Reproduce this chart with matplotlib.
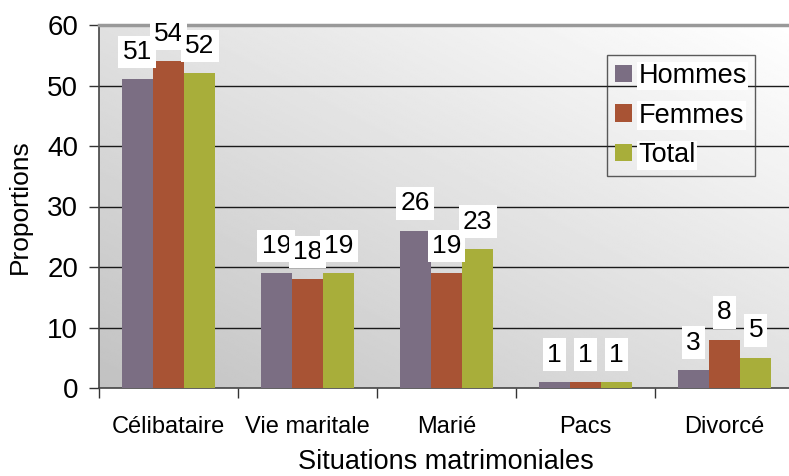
import numpy as np
import matplotlib
matplotlib.use("Agg")
import matplotlib.pyplot as plt
from matplotlib.patches import Patch

plt.rcParams['font.family'] = ['Liberation Sans', 'DejaVu Sans']

categories = ["Célibataire", "Vie maritale", "Marié", "Pacs", "Divorcé"]
hommes = [51, 19, 26, 1, 3]
femmes = [54, 18, 19, 1, 8]
total = [52, 19, 23, 1, 5]
series_names = ["Hommes", "Femmes", "Total"]
series_colors = ["#7B6E83", "#A85334", "#A8AE3A"]
yticks = [0, 10, 20, 30, 40, 50, 60]

fig = plt.figure(figsize=(7.89, 4.76), dpi=100)
ax = fig.add_axes([99/789, 88/476, 695/789, 363/476])

# gradient background
n = 256
xx, yy = np.meshgrid(np.linspace(0, 1, n), np.linspace(0, 1, n))
g = (xx + yy) / 2.0
lo, hi = 0.76, 1.0
img = lo + (hi - lo) * g
ax.imshow(img, cmap='gray', vmin=0, vmax=1, extent=[0, 1, 0, 1], origin='lower',
          transform=ax.transAxes, aspect='auto', zorder=0, interpolation='bilinear')

x = np.arange(len(categories))
w = 0.225
data = [hommes, femmes, total]
for i, (vals, name, col) in enumerate(zip(data, series_names, series_colors)):
    pos = x + (i - 1) * w
    ax.bar(pos, vals, width=w, color=col, zorder=3, label=name)
    for px, v in zip(pos, vals):
        ax.annotate(str(v), xy=(px, v), xytext=(0, 11), textcoords='offset points',
                    ha='center', va='bottom', fontsize=19, zorder=5,
                    bbox=dict(boxstyle='square,pad=0.16', fc='white', ec='none'))

ax.set_xlim(-0.5, len(categories) - 0.5)
ax.set_ylim(0, 60)
ax.set_yticks(yticks)
ax.set_xticks(np.arange(len(categories) + 1) - 0.5)
ax.set_xticklabels([])
ax.set_xticks(x, minor=True)
ax.set_xticklabels(categories, minor=True, fontsize=17)
ax.tick_params(axis='x', which='minor', length=0, pad=20)
ax.tick_params(axis='x', which='major', length=7, width=1, color='#333333', direction='out')
ax.tick_params(axis='y', length=7, width=1, color='#333333', labelsize=20, pad=8)

for yv in yticks[1:-1]:
    ax.axhline(yv, color='#1a1a1a', lw=1, zorder=1)

ax.spines['top'].set_color('#999999')
ax.spines['top'].set_linewidth(2.5)
ax.spines['right'].set_visible(False)
ax.spines['left'].set_color('#444444')
ax.spines['left'].set_linewidth(1.2)
ax.spines['bottom'].set_color('#444444')
ax.spines['bottom'].set_linewidth(1.2)

ax.set_ylabel("Proportions", fontsize=19)
ax.yaxis.set_label_coords(-(99 - 32) / 695, 0.5)
ax.set_xlabel("Situations matrimoniales", fontsize=19.5)
ax.xaxis.set_label_coords((446 - 99) / 695, -0.168)

handles = [Patch(facecolor=c, edgecolor='none', label=nme) for c, nme in zip(series_colors, series_names)]
leg = ax.legend(handles=handles, loc='upper left', bbox_to_anchor=((607 - 99) / 695, (388 - 55) / 363),
                fontsize=19.5, frameon=True, fancybox=False, handlelength=0.62, handleheight=0.62,
                handletextpad=0.25, labelspacing=0.5, borderpad=0.3, borderaxespad=0)
leg.get_frame().set_edgecolor('#333333')
leg.get_frame().set_facecolor('none')
leg.get_frame().set_linewidth(1)
for t in leg.get_texts():
    t.set_bbox(dict(boxstyle='square,pad=0.05', fc='white', ec='none'))

fig.savefig("out.png", dpi=100)
